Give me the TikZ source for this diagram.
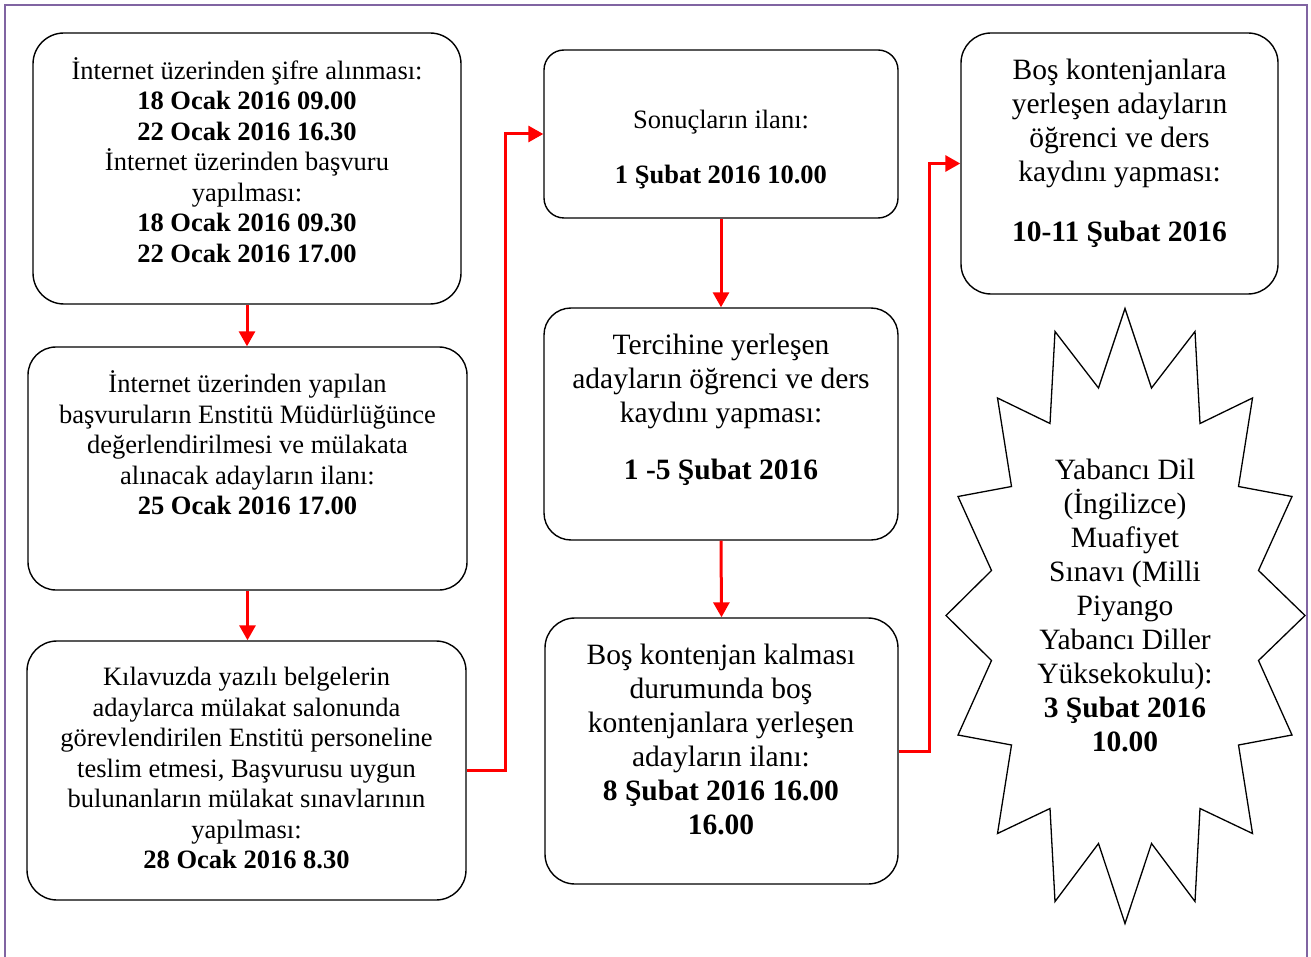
\documentclass[tikz,border=0pt]{standalone}
\usepackage{fontspec}
\setmainfont{Liberation Serif}
\usetikzlibrary{arrows.meta}
\definecolor{framepurple}{RGB}{128,100,162}
\begin{document}
\begin{tikzpicture}[x=1pt,y=-1pt,
  box/.style={draw=black, line width=1.4pt, rectangle, inner sep=0pt, fill=white},
  small/.style={align=center, font=\fontsize{26.5}{30.5}\selectfont, inner sep=0pt},
  large/.style={align=center, font=\fontsize{29.5}{34}\selectfont, inner sep=0pt},
  arr/.style={draw=red, line width=3pt, -{Triangle[length=15pt,width=16pt]}},
  frameline/.style={draw=framepurple, line width=1.5pt}]
\useasboundingbox (0,0) rectangle (1311,957);
\draw[frameline] (5,957) -- (5,5) -- (1307,5) -- (1307,957);

% boxes
\node[box, rounded corners=31pt, minimum width=428pt, minimum height=271pt] (b1) at (247,168.5) {};
\node[box, rounded corners=28pt, minimum width=439pt, minimum height=243pt] (b2) at (247.5,468.5) {};
\node[box, rounded corners=30pt, minimum width=439pt, minimum height=259pt] (b3) at (246.5,770.5) {};
\node[box, rounded corners=20pt, minimum width=354pt, minimum height=168pt] (b4) at (721,134) {};
\node[box, rounded corners=27pt, minimum width=354pt, minimum height=232pt] (b5) at (721,424) {};
\node[box, rounded corners=30pt, minimum width=353pt, minimum height=266pt] (b6) at (721.5,751) {};
\node[box, rounded corners=30pt, minimum width=317pt, minimum height=261pt] (b7) at (1119.5,163.5) {};

% starburst
\begin{scope}[shift={(1125,615.5)}]
\draw[black, line width=1.3pt, fill=white]
  (0,-307) -- (26.5,-227.5) -- (70,-284) -- (75,-192)
  -- (127.5,-217.5) -- (113.5,-129) -- (167,-119) -- (133.5,-45)
  -- (180,0) -- (133.5,45) -- (167,119.5) -- (113.5,129.5)
  -- (127.5,218) -- (75,193) -- (70,286) -- (26.5,228)
  -- (0,308) -- (-26.5,228) -- (-70,286) -- (-75,193)
  -- (-127.5,218) -- (-113.5,129.5) -- (-167,119.5) -- (-133.5,45)
  -- (-179,0) -- (-133.5,-45) -- (-167,-119) -- (-113.5,-129)
  -- (-127.5,-217.5) -- (-75,-192) -- (-70,-284) -- (-26.5,-227.5) -- cycle;
\end{scope}

% texts
\node[small] (t1) at (247,160) {İnternet üzerinden şifre alınması:\\\textbf{18 Ocak 2016 09.00}\\\textbf{22 Ocak 2016 16.30}\\İnternet üzerinden başvuru\\yapılması:\\\textbf{18 Ocak 2016 09.30}\\\textbf{22 Ocak 2016 17.00}};
\node[small] (t2) at (247.5,443) {İnternet üzerinden yapılan\\başvuruların Enstitü Müdürlüğünce\\değerlendirilmesi ve mülakata\\alınacak adayların ilanı:\\\textbf{25 Ocak 2016 17.00}};
\node[small] (t3) at (246.5,768) {Kılavuzda yazılı belgelerin\\adaylarca mülakat salonunda\\görevlendirilen Enstitü personeline\\teslim etmesi, Başvurusu uygun\\bulunanların mülakat sınavlarının\\yapılması:\\\textbf{28 Ocak 2016 8.30}};
\node[small] (t4) at (721,150) {Sonuçların ilanı:\\[24.5pt]\textbf{1 Şubat 2016 10.00}};
\node[large] (t5) at (721,410) {Tercihine yerleşen\\adayların öğrenci ve ders\\kaydını yapması:\\[23pt]\textbf{1 -5 Şubat 2016}};
\node[large] (t6) at (721,739) {Boş kontenjan kalması\\durumunda boş\\kontenjanlara yerleşen\\adayların ilanı:\\\textbf{8 Şubat 2016 16.00}\\\textbf{16.00}};
\node[large] (t7) at (1119.5,153) {Boş kontenjanlara\\yerleşen adayların\\öğrenci ve ders\\kaydını yapması:\\[26pt]\textbf{10-11 Şubat 2016}};
\node[large] (t8) at (1125,605.5) {Yabancı Dil\\(İngilizce)\\Muafiyet\\Sınavı (Milli\\Piyango\\Yabancı Diller\\Yüksekokulu):\\\textbf{3 Şubat 2016}\\\textbf{10.00}};

% connectors
\draw[arr] (b1.south) -- (b1.south |- b2.north);
\draw[arr] (b2.south) -- (b2.south |- b3.north);
\draw[arr] (b3.east) -- ++(39,0) |- (b4.west);
\draw[arr] (b4.south) -- (b5.north);
\draw[arr] (b5.south) -- (b6.north);
\draw[arr] (b6.east) -- ++(31,0) |- (b7.west);
\end{tikzpicture}
\end{document}
